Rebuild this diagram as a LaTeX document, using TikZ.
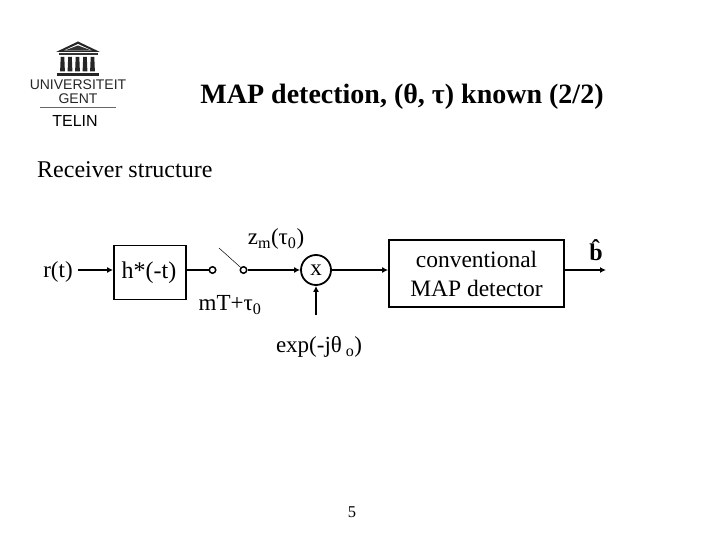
\documentclass[tikz,border=0pt]{standalone}
\usepackage{fontspec}
\setmainfont{Liberation Serif}
\newfontfamily\logofont{Liberation Sans}
\usetikzlibrary{arrows.meta}
\tikzset{
  wire/.style={line width=1.5pt},
  arrowwire/.style={wire,-{Latex[length=6pt,width=6pt]}},
  blockbox/.style={draw,line width=1.8pt,inner sep=0pt,align=center,font=\fontsize{23.5}{30}\selectfont},
  lab/.style={inner sep=0pt,font=\fontsize{23}{25}\selectfont},
  term/.style={circle,draw,line width=1.5pt,minimum size=6.5pt,inner sep=0pt,fill=white},
  logotext/.style={inner sep=0pt,font=\logofont\fontsize{14}{14}\selectfont,text=black!85}
}
\begin{document}
\begin{tikzpicture}[x=1pt,y=-1pt]
\useasboundingbox (0,0) rectangle (720,540);
% logo
\fill[black!85] (78,41.5) -- (100,52) -- (56,52) -- cycle;
\fill[white] (78,44) -- (92,50.5) -- (64,50.5) -- cycle;
\fill[black!80] (66,50) -- (78,45.5) -- (90,50) -- cycle;
\fill[black!80] (59,53.5) rectangle (98,55.5);
\foreach \cx in {62.5,70,77.5,85,92.5}{
  \fill[black!85] (\cx-1.8,57) -- (\cx+1.8,57) -- (\cx+2.4,71.5) -- (\cx-2.4,71.5) -- cycle;
}
\fill[black!85] (57,73) rectangle (98.5,76.5);
\node[logotext] (univ) at (78,85) {UNIVERSITEIT};
\node[logotext] (gent) at (78,99) {GENT};
\draw[black!60,line width=.6pt] (40,107) -- (116,107);
\node[inner sep=0pt,font=\logofont\fontsize{16}{16}\selectfont] (telin) at (75,121) {TELIN};
% titles
\node[inner sep=0pt,font=\bfseries\fontsize{28}{30}\selectfont] (title) at (402,97) {MAP detection, (θ, τ) known (2/2)};
\node[inner sep=0pt,anchor=west,font=\fontsize{24}{26}\selectfont] (sub) at (37,170) {Receiver structure};
% blocks
\node[blockbox,minimum width=72pt,minimum height=54pt] (h) at (150,272.5) {};
\node[inner sep=0pt,font=\fontsize{24}{26}\selectfont] (hlabel) at (149,273) {h*(-t)};
\node[blockbox,minimum width=175pt,minimum height=67pt] (map) at (476.5,273.5) {conventional\\[-1pt]MAP detector};
\node[circle,draw,line width=1.8pt,minimum size=30pt,inner sep=0pt,font=\fontsize{23}{25}\selectfont] (x) at (316,270) {x};
\node[term] (t1) at (212.5,270) {};
\node[term] (t2) at (243.5,270) {};
\node[lab] (r) at (58,272) {r(t)};
\coordinate (rout) at (78,270);
\coordinate (hin) at (h.west |- rout);
\coordinate (hout) at (h.east |- rout);
\coordinate (mapin) at (map.west |- rout);
\coordinate (mapout) at (map.east |- rout);
\coordinate (bout) at (606,270);
\coordinate (expo) at (316,315);
\coordinate (sw) at (219,248);
\draw[arrowwire] (rout) -- (hin);
\draw[wire] (hout) -- (t1);
\draw[line width=.5pt] (sw) -- (t2);
\draw[arrowwire] (t2) -- (x);
\draw[arrowwire] (x) -- (mapin);
\draw[arrowwire] (mapout) -- (bout);
\draw[arrowwire] (expo) -- (x);
% labels
\node[lab] (zm) at (276,239) {z\textsubscript{m}(τ\textsubscript{0})};
\node[lab] (mt) at (230,305) {mT+τ\textsubscript{0}};
\node[lab] (exp) at (319,347) {exp(-jθ\,\textsubscript{o})};
\node[inner sep=0pt,font=\bfseries\fontsize{24}{25}\selectfont] (b) at (596,250) {\^{b}};
\node[inner sep=0pt,font=\fontsize{16.5}{18}\selectfont] (pg) at (352,512) {5};
\end{tikzpicture}
\end{document}
